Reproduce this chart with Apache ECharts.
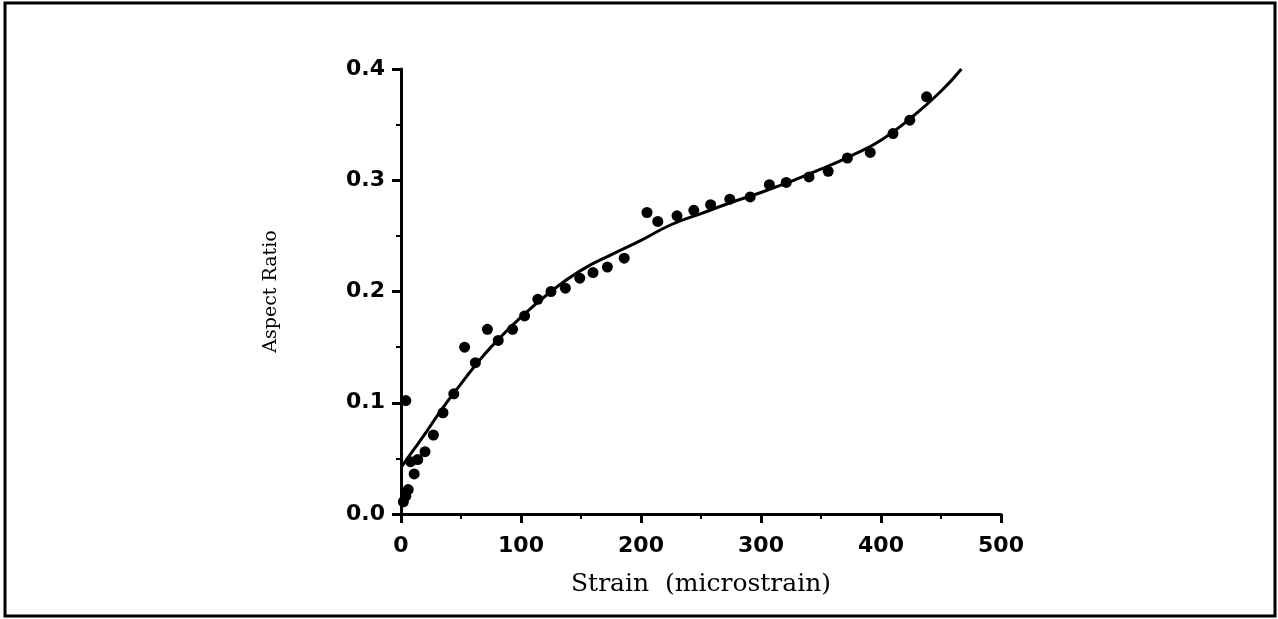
<!DOCTYPE html>
<html>
<head>
<meta charset="utf-8">
<script src="https://cdn.jsdelivr.net/npm/echarts@6/dist/echarts.min.js"></script>
<style>
html,body{margin:0;padding:0;background:#fff;}
#chart{width:1278px;height:619px;}
</style>
</head>
<body>
<div id="chart"></div>
<script>
// measured points: strain (microstrain), aspect ratio
var strainPts = [2, 4, 6, 11, 8, 14, 20, 27, 35, 44, 53, 62, 72, 81, 93, 103, 114, 125, 137, 149, 160, 172, 186,
	205, 214, 230, 244, 258, 274, 291, 307, 321, 340, 356, 372, 391, 410, 424, 438]
var ratioPts = [0.011, 0.016, 0.022, 0.036, 0.047, 0.049, 0.056, 0.071, 0.091, 0.108, 0.150, 0.136, 0.166, 0.156, 0.166, 0.178, 0.193, 0.200, 0.203, 0.212, 0.217, 0.222, 0.230,
	0.271, 0.263, 0.268, 0.273, 0.278, 0.283, 0.285, 0.296, 0.298, 0.303, 0.308, 0.320, 0.325, 0.342, 0.354, 0.375]
var extraPt = [[4, 0.102]]

// fitted curve
var fitStrain = [0, 10, 20, 30, 40, 50, 60, 75, 100, 125, 150, 175, 200, 225, 250, 275, 300, 325, 350, 375, 400, 425, 450, 467]
var fitRatio = [0.042, 0.057, 0.072, 0.088, 0.103, 0.117, 0.131, 0.150, 0.177, 0.200, 0.219, 0.233, 0.246, 0.260, 0.270, 0.280, 0.289, 0.299, 0.310, 0.322, 0.336, 0.356, 0.380, 0.400]

var xTicks = [0, 100, 200, 300, 400, 500]
var yTicks = ['0.0', '0.1', '0.2', '0.3', '0.4']

var chart = echarts.init(document.getElementById('chart'))

var scatterData = strainPts.map(function(x, i){ return [x, ratioPts[i]] }).concat(extraPt)
var fitData = fitStrain.map(function(x, i){ return [x, fitRatio[i]] })

var axisLine = {lineStyle:{color:'#000', width:3}}
var tickLabel = {color:'#000', fontFamily:'DejaVu Sans', fontWeight:'bold', fontSize:22}

chart.setOption({
	animation:false,
	backgroundColor:'#fff',
	grid:{left:401, right:277, top:69, bottom:105},
	graphic:[{
		type:'rect',
		shape:{x:5, y:3, width:1270, height:613},
		style:{fill:null, stroke:'#000', lineWidth:3}
	}],
	xAxis:{
		type:'value', min:0, max:500, interval:100,
		name:'Strain  (microstrain)', nameLocation:'middle', nameGap:58,
		nameTextStyle:{color:'#000', fontFamily:'DejaVu Serif', fontSize:25},
		axisLine:axisLine,
		axisTick:{length:9, lineStyle:{color:'#000', width:3}},
		minorTick:{show:true, splitNumber:2, length:5, lineStyle:{color:'#000', width:2}},
		splitLine:{show:false},
		axisLabel:Object.assign({margin:21, formatter:function(v){ return xTicks.indexOf(v) >= 0 ? String(v) : '' }}, tickLabel)
	},
	yAxis:{
		type:'value', min:0, max:0.4, interval:0.1,
		name:'Aspect Ratio', nameLocation:'middle', nameGap:120, nameRotate:90,
		nameTextStyle:{color:'#000', fontFamily:'DejaVu Serif', fontSize:19},
		axisLine:axisLine,
		axisTick:{length:9, lineStyle:{color:'#000', width:3}},
		minorTick:{show:true, splitNumber:2, length:5, lineStyle:{color:'#000', width:2}},
		splitLine:{show:false},
		axisLabel:Object.assign({margin:16, formatter:function(v){ return yTicks[Math.round(v * 10)] }}, tickLabel)
	},
	series:[{
		type:'scatter',
		data:scatterData,
		symbol:'circle',
		symbolSize:11,
		itemStyle:{color:'#000', opacity:1}
	},{
		type:'line',
		data:fitData,
		smooth:true,
		showSymbol:false,
		lineStyle:{color:'#000', width:3}
	}]
})
</script>
</body>
</html>
